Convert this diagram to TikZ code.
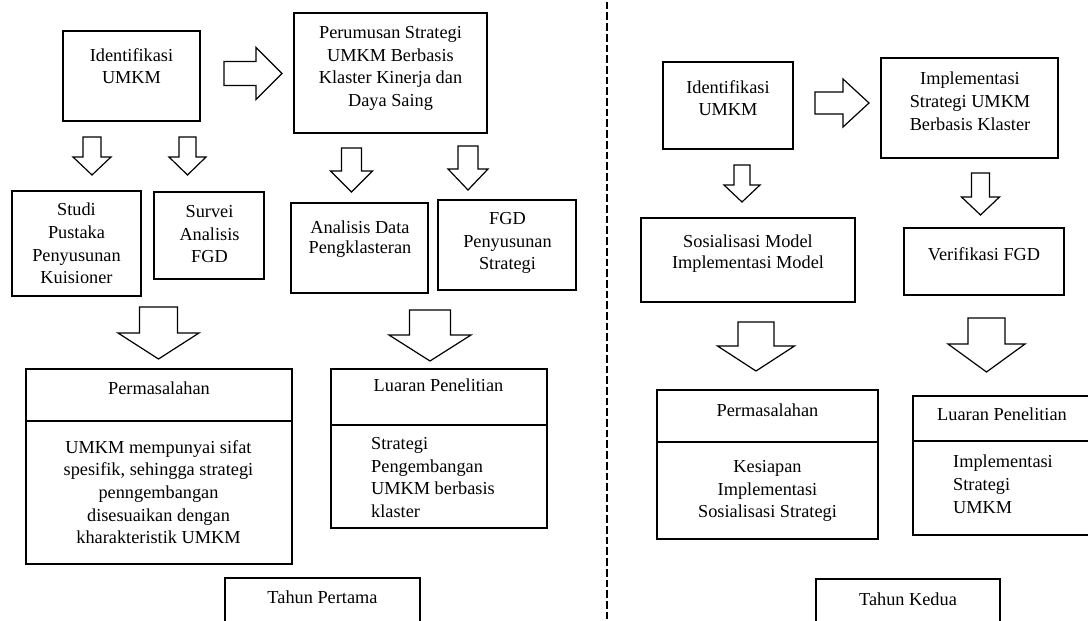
\documentclass[tikz,border=0pt]{standalone}
\usepackage{fontspec}
\setmainfont{Liberation Serif}
\newcommand\FSz{\fontsize{18.3}{22.7}\selectfont}
\newcommand\BoxNode[5]{\node[box, minimum width={#4-#2}, minimum height={#5-#3}] (#1) at ({(#2+#4)/2},{(#3+#5)/2}) {};}
\newcommand\DnArrow[6]{\draw[blk] ({#1-#3},#2) -- ({#1+#3},#2) -- ({#1+#3},#5) -- ({#1+#4},#5) -- (#1,#6) -- ({#1-#4},#5) -- ({#1-#3},#5) -- cycle;}
\newcommand\RtArrow[6]{\draw[blk] (#1,{#2-#3}) -- (#5,{#2-#3}) -- (#5,{#2-#4}) -- (#6,#2) -- (#5,{#2+#4}) -- (#5,{#2+#3}) -- (#1,{#2+#3}) -- cycle;}
\tikzset{
  box/.style={draw, line width=1.4pt, inner sep=0pt, outer sep=0pt},
  txt/.style={align=center, inner sep=0pt, font=\FSz, anchor=north},
  ltxt/.style={align=left, inner sep=0pt, font=\FSz, anchor=north west},
  blk/.style={draw, line width=1.2pt, fill=white, line join=miter},
  sepline/.style={draw, line width=2.2pt, dash pattern=on 7.7pt off 3pt}
}
\begin{document}
\begin{tikzpicture}[x=1pt,y=-1pt]
\useasboundingbox (0,0) rectangle (1088,621);
\clip (0,0) rectangle (1088,621);
\fill[white] (0,0) rectangle (1088,621);
% ---------- first year ----------
\BoxNode{idL}{63}{31}{200}{121}
\node[txt] (idLt) at (131.5,48) {Identifikasi\\UMKM};
\BoxNode{perL}{294}{13}{487}{133}
\node[txt] (perLt) at (390.5,26) {Perumusan Strategi\\UMKM Berbasis\\Klaster Kinerja dan\\Daya Saing};
\BoxNode{studi}{12}{191}{141}{296}
\node[txt] (studit) at (76.5,203) {Studi\\Pustaka\\Penyusunan\\Kuisioner};
\BoxNode{survei}{154}{192}{264}{279}
\node[txt] (surveit) at (209.5,205) {Survei\\Analisis\\FGD};
\BoxNode{anal}{291}{203}{428}{293}
\node[txt] (analt) at (360,221) {Analisis Data\\[-3.5pt]Pengklasteran};
\BoxNode{fgd}{438}{200}{576}{290}
\node[txt] (fgdt) at (507.5,212) {FGD\\Penyusunan\\Strategi};
\BoxNode{permLh}{26}{369}{292}{421}
\BoxNode{permLb}{26}{421}{292}{564}
\node[txt] (permLht) at (159,382) {Permasalahan};
\node[txt] (permLbt) at (158.5,440) {UMKM mempunyai sifat\\spesifik, sehingga strategi\\penngembangan\\disesuaikan dengan\\kharakteristik UMKM};
\BoxNode{luarLh}{331}{369}{547}{425}
\BoxNode{luarLb}{331}{425}{547}{528}
\node[txt] (luarLht) at (438.5,379) {Luaran Penelitian};
\node[ltxt] (luarLbt) at (371,437) {Strategi\\Pengembangan\\UMKM berbasis\\klaster};
\BoxNode{tahunL}{225}{578}{420}{640}
\node[txt] (tahunLt) at (322.5,591) {Tahun Pertama};
% arrows first year
\RtArrow{224}{73.5}{12}{26}{256}{282}
\DnArrow{92}{137}{9}{19}{157}{175}
\DnArrow{187.5}{137}{8.5}{18.5}{157}{175}
\DnArrow{351.5}{148}{10}{21}{171}{192}
\DnArrow{468}{146}{10}{20}{169}{190}
\DnArrow{158.5}{307}{19}{40.5}{333}{359}
\DnArrow{430}{310}{20.5}{41}{335}{361}
% ---------- separator ----------
\coordinate (sepTop) at (607,1.7);
\coordinate (sepBot) at (607,625);
\draw[sepline] (sepTop) -- (sepBot);
% ---------- second year ----------
\BoxNode{idR}{663}{62}{793}{149}
\node[txt] (idRt) at (728,80) {Identifikasi\\UMKM};
\BoxNode{impR}{881}{58}{1058}{158}
\node[txt] (impRt) at (970,72) {Implementasi\\Strategi UMKM\\Berbasis Klaster};
\BoxNode{sos}{641}{218}{855}{302}
\node[txt] (sost) at (748,234.5) {Sosialisasi Model\\[-1.7pt]Implementasi Model};
\BoxNode{ver}{904}{228}{1064}{295}
\node[txt] (vert) at (984,247.5) {Verifikasi FGD};
\BoxNode{permRh}{657}{390}{878}{442}
\BoxNode{permRb}{657}{442}{878}{539}
\node[txt] (permRht) at (767.5,404) {Permasalahan};
\node[txt] (permRbt) at (767.5,460) {Kesiapan\\Implementasi\\Sosialisasi Strategi};
\BoxNode{luarRh}{913}{396}{1092}{441}
\BoxNode{luarRb}{913}{441}{1092}{535}
\node[txt] (luarRht) at (1002,408) {Luaran Penelitian};
\node[ltxt] (luarRbt) at (953,455) {Implementasi\\Strategi\\UMKM};
\BoxNode{tahunR}{816}{579}{1000}{640}
\node[txt] (tahunRt) at (908,593) {Tahun Kedua};
% arrows second year
\RtArrow{815}{103}{11}{24}{843}{869}
\DnArrow{742}{165}{8}{18}{185}{202}
\DnArrow{980.5}{173}{9}{19}{197}{215}
\DnArrow{756}{322}{18}{38.5}{346}{371}
\DnArrow{986.5}{318}{18.5}{38.5}{344}{372}
\end{tikzpicture}
\end{document}
